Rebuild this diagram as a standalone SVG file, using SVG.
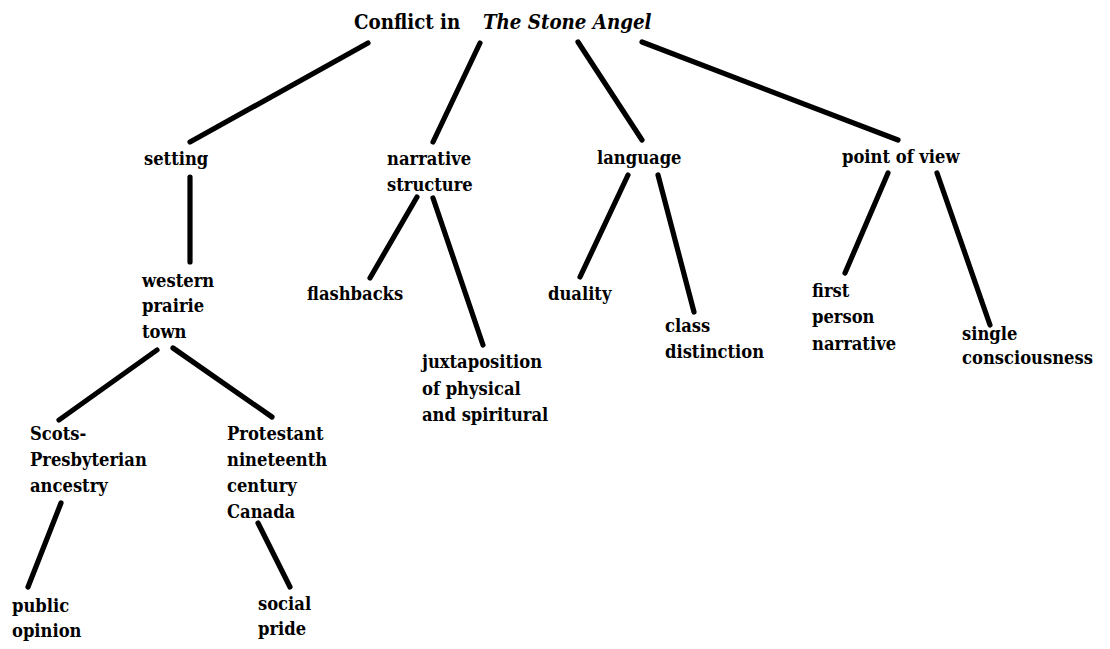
<svg xmlns="http://www.w3.org/2000/svg" width="1110" height="649" viewBox="0 0 1110 649">
<style>
text{font-family:"DejaVu Serif Condensed","DejaVu Serif","Liberation Serif",serif;font-weight:bold;font-stretch:condensed;font-size:18.2px;fill:#000}
.t{font-size:20.3px}
.i{font-style:italic}
.c line{stroke:#000;stroke-width:5.2;stroke-linecap:round}
</style>
<rect width="1110" height="649" fill="#fff"/>
<g class="c" id="connectors">
<line x1="368" y1="43" x2="190" y2="142"/>
<line x1="480" y1="43" x2="433" y2="142"/>
<line x1="578" y1="42" x2="642" y2="140"/>
<line x1="642" y1="42" x2="898" y2="140"/>
<line x1="190" y1="177" x2="190" y2="262"/>
<line x1="417" y1="197" x2="370" y2="278"/>
<line x1="433" y1="198" x2="483" y2="345"/>
<line x1="628" y1="175" x2="580" y2="277"/>
<line x1="658" y1="175" x2="694" y2="312"/>
<line x1="888" y1="173" x2="845" y2="273"/>
<line x1="937" y1="173" x2="990" y2="325"/>
<line x1="157" y1="350" x2="59" y2="420"/>
<line x1="173" y1="348" x2="272" y2="417"/>
<line x1="61" y1="503" x2="28" y2="587"/>
<line x1="258" y1="523" x2="290" y2="587"/>
</g>
<g id="root"><text class="t" x="354" y="29">Conflict in <tspan class="i" x="483">The Stone Angel</tspan></text></g>
<g id="setting"><text x="144" y="165">setting</text></g>
<g id="narrative"><text x="387" y="165">narrative</text><text x="387" y="191">structure</text></g>
<g id="language"><text x="597" y="164">language</text></g>
<g id="pov"><text x="842" y="163">point of view</text></g>
<g id="western"><text x="142" y="287">western</text><text x="142" y="312">prairie</text><text x="142" y="338">town</text></g>
<g id="flashbacks"><text x="307" y="300">flashbacks</text></g>
<g id="juxta"><text x="422" y="368">juxtaposition</text><text x="422" y="395">of physical</text><text x="422" y="421">and spiritural</text></g>
<g id="duality"><text x="548" y="300">duality</text></g>
<g id="class"><text x="665" y="332">class</text><text x="665" y="358">distinction</text></g>
<g id="first"><text x="812" y="297">first</text><text x="812" y="323">person</text><text x="812" y="350">narrative</text></g>
<g id="single"><text x="962" y="340">single</text><text x="962" y="364">consciousness</text></g>
<g id="scots"><text x="30" y="440">Scots-</text><text x="30" y="466">Presbyterian</text><text x="30" y="492">ancestry</text></g>
<g id="protestant"><text x="227" y="440">Protestant</text><text x="227" y="466">nineteenth</text><text x="227" y="492">century</text><text x="227" y="518">Canada</text></g>
<g id="public"><text x="12" y="612">public</text><text x="12" y="637">opinion</text></g>
<g id="social"><text x="258" y="610">social</text><text x="258" y="635">pride</text></g>
</svg>
